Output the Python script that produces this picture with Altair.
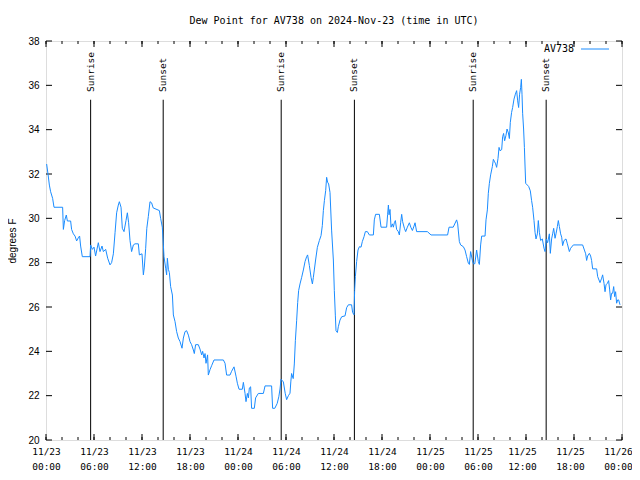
import altair as alt
import pandas as pd

# ---- data ----
hours = [0.08, 0.25, 0.42, 0.58, 0.83, 1.0, 2.08, 2.17, 2.33, 2.54, 2.67, 3.08, 3.2, 3.42, 3.63, 3.83,
         4.08, 4.2, 4.33, 4.54, 5.5, 5.58, 5.79, 6.0, 6.2, 6.54, 6.75, 7.0, 7.17, 7.46, 7.71, 8.0,
         8.2, 8.42, 8.63, 8.83, 9.04, 9.17, 9.38, 9.54, 9.75, 10.0, 10.17, 10.33, 10.5, 10.7, 10.92,
         11.13, 11.54, 11.67, 12.0, 12.17, 12.29, 12.46, 12.6, 12.79, 13.0, 13.2, 13.4, 14.17, 14.33,
         14.54, 14.67, 14.75, 14.96, 15.08, 15.17, 15.3, 15.42, 15.58, 15.8, 15.92, 16.13, 16.33,
         16.54, 16.75, 17.0, 17.17, 17.38, 17.58, 17.8, 18.0, 18.2, 18.42, 18.54, 18.7, 19.04, 19.25,
         19.46, 19.58, 19.75, 19.88, 20.0, 20.2, 20.29, 20.5, 20.7, 21.0, 22.17, 22.38, 22.58, 23.0,
         23.2, 23.5, 23.75, 23.92, 24.13, 24.54, 24.67, 24.88, 25.0, 25.17, 25.3, 25.42, 25.58, 25.7,
         26.04, 26.2, 26.54, 27.17, 27.38, 28.2, 28.33, 28.6, 28.9, 29.1, 29.25, 29.38, 29.67, 29.9,
         30.08, 30.3, 30.5, 30.6, 30.7, 30.9, 31.04, 31.17, 31.33, 31.46, 31.58, 31.75, 31.96, 32.17,
         32.38, 32.58, 32.7, 32.92, 33.13, 33.3, 33.42, 33.54, 33.7, 33.92, 34.17, 34.38, 34.54,
         34.67, 34.8, 34.96, 35.08, 35.2, 35.33, 35.5, 35.7, 35.92, 36.04, 36.17, 36.25, 36.42,
         36.54, 36.75, 36.96, 37.38, 37.58, 37.8, 38.2, 38.33, 38.5, 38.58, 38.67, 38.83, 39.0,
         39.17, 39.38, 39.54, 39.75, 39.92, 40.17, 40.42, 40.92, 41.04, 41.2, 41.67, 41.88, 42.58,
         42.7, 42.8, 42.88, 43.0, 43.13, 43.3, 43.42, 43.54, 43.67, 43.83, 44.04, 44.17, 44.33,
         44.46, 44.58, 44.8, 44.96, 45.17, 45.42, 45.6, 45.8, 46.0, 46.13, 46.33, 47.67, 48.13,
         50.2, 50.38, 50.9, 51.33, 51.46, 51.67, 51.83, 52.17, 52.38, 52.58, 52.8, 52.92, 53.08,
         53.3, 53.42, 53.6, 53.83, 54.04, 54.17, 54.33, 54.46, 54.88, 55.0, 55.17, 55.29, 55.42,
         55.58, 55.79, 55.92, 56.08, 56.2, 56.33, 56.5, 56.63, 56.75, 56.96, 57.08, 57.2, 57.33,
         57.5, 57.63, 57.8, 57.92, 58.04, 58.2, 58.33, 58.5, 58.67, 58.83, 58.96, 59.08, 59.2,
         59.33, 59.42, 59.5, 59.58, 59.7, 59.8, 59.88, 59.96, 60.17, 60.33, 60.54, 60.7, 60.83,
         61.0, 61.13, 61.25, 61.42, 61.54, 61.67, 61.83, 62.04, 62.25, 62.38, 62.54, 62.7, 62.92,
         63.04, 63.2, 63.33, 63.46, 63.63, 63.75, 63.92, 64.04, 64.17, 64.33, 64.46, 64.58, 64.75,
         65.0, 65.17, 65.42, 65.58, 65.92, 67.08, 67.3, 67.46, 67.58, 67.7, 67.92, 68.08, 68.2,
         68.33, 68.83, 68.96, 69.25, 69.46, 69.58, 69.75, 69.88, 70.0, 70.17, 70.33, 70.46, 70.58,
         70.7, 70.83, 70.96, 71.08, 71.2, 71.33, 71.46, 71.58, 71.75]

dewpoint = [32.45, 32.0, 31.5, 31.2, 30.9, 30.5, 30.5, 29.5, 29.9, 30.15, 29.88, 29.88, 29.5, 29.3, 29.2, 28.98,
            29.15, 29.2, 28.75, 28.27, 28.27, 28.8, 28.6, 28.7, 28.3, 28.9, 28.5, 28.75, 28.5, 28.6, 28.2, 27.9,
            28.0, 28.4, 29.35, 30.25, 30.6, 30.75, 30.5, 29.55, 29.4, 29.9, 30.25, 29.8, 29.0, 28.5, 28.8,
            28.85, 28.85, 28.35, 28.4, 27.45, 27.8, 28.65, 29.55, 30.08, 30.75, 30.7, 30.47, 30.35, 30.0,
            29.6, 28.8, 28.27, 27.75, 27.45, 28.2, 27.7, 27.55, 26.92, 26.54, 25.64, 25.34, 24.89,
            24.6, 24.44, 24.14, 24.6, 24.89, 24.93, 24.73, 24.44, 24.3, 24.06, 23.9, 24.3, 24.3, 24.1,
            23.84, 24.0, 23.7, 23.9, 23.46, 23.84, 22.93, 23.17, 23.35, 23.61, 23.61, 23.46, 22.93, 22.93,
            23.1, 23.3, 22.88, 22.56, 22.29, 22.29, 22.6, 22.1, 21.73, 22.1, 21.9, 22.35, 22.4, 21.43,
            21.43, 21.9, 22.1, 22.1, 22.44, 22.44, 21.43, 21.43, 21.65, 21.95, 22.3, 22.74, 22.62, 22.11,
            21.82, 22.0, 22.11, 22.62, 23.0, 22.77, 23.43, 24.48, 25.38, 26.2, 26.74, 27.04, 27.34, 27.67,
            28.05, 28.27, 28.35, 27.87, 27.34, 27.04, 27.34, 27.67, 28.12, 28.69, 29.0, 29.22, 29.67,
            30.35, 30.8, 31.25, 31.85, 31.63, 31.55, 31.17, 29.47, 28.12, 26.74, 25.6, 24.93, 24.85,
            25.11, 25.41, 25.56, 25.6, 25.97, 26.1, 26.1, 25.75, 25.65, 26.74, 27.37, 28.05, 28.57,
            28.72, 28.7, 28.95, 29.17, 29.4, 29.4, 29.25, 29.25, 29.93, 30.18, 30.18, 29.6, 29.6,
            30.16, 30.6, 30.16, 30.4, 29.6, 29.75, 29.6, 29.8, 29.9, 29.5, 29.4, 29.25, 29.8,
            30.18, 29.85, 29.55, 29.4, 29.6, 29.8, 29.6, 29.45, 29.65, 29.8, 29.4, 29.4, 29.25,
            29.25, 29.6, 29.6, 29.93, 29.75, 28.95, 28.8, 28.72, 28.57, 28.27, 27.97, 27.92, 28.5,
            28.1, 27.95, 27.95, 28.57, 28.05, 27.92, 28.8, 29.2, 29.2, 29.93, 30.38, 31.13, 31.58,
            31.96, 32.33, 32.66, 32.55, 32.46, 32.3, 32.7, 33.2, 33.05, 33.1, 33.68, 33.83, 33.5,
            33.75, 34.03, 33.85, 33.6, 34.33, 34.78, 35.0, 35.38, 35.6, 35.76, 35.3, 35.0, 35.6,
            35.9, 36.27, 35.6, 34.74, 34.03, 33.2, 32.36, 31.58, 31.5, 31.44, 31.24, 30.8, 30.5,
            29.9, 29.37, 29.07, 29.3, 29.9, 29.37, 29.0, 29.07, 28.65, 28.5, 29.07, 28.9, 29.3,
            28.42, 29.07, 29.3, 29.55, 29.1, 29.3, 29.63, 29.9, 29.63, 29.3, 29.15, 28.77, 29.0,
            29.07, 28.85, 28.5, 28.65, 28.8, 28.8, 28.57, 28.4, 28.1, 28.3, 28.42, 28.3, 28.1,
            27.72, 27.72, 27.37, 27.1, 27.3, 27.45, 27.07, 26.69, 27.0, 27.07, 27.19, 26.77, 26.32,
            26.62, 26.62, 26.92, 26.47, 26.69, 26.17, 26.32, 26.32, 26.1]

sun_hours = [5.58, 14.65, 29.4, 38.55, 53.4, 62.52]
sun_labels = ["Sunrise", "Sunset", "Sunrise", "Sunset", "Sunrise", "Sunset"]
major_tick_hours = list(range(0, 73, 6))
minor_tick_hours = list(range(0, 73, 2))
y_ticks = [20, 22, 24, 26, 28, 30, 32, 34, 36, 38]
series_name = "AV738"
title_text = "Dew Point for AV738 on 2024-Nov-23 (time in UTC)"

base = pd.Timestamp("2024-11-23T00:00:00")


def stamps(h):
    return (base + pd.to_timedelta(h, unit="h")).strftime("%Y-%m-%dT%H:%M:%SZ").tolist()


df = pd.DataFrame({"time": stamps(hours), "dew": dewpoint})
sun_df = pd.DataFrame({"time": stamps(sun_hours), "label": sun_labels})
major_df = pd.DataFrame({"time": stamps(major_tick_hours)})
minor_df = pd.DataFrame({"time": stamps(minor_tick_hours)})
yt_df = pd.DataFrame({"dew": y_ticks})

MONO = "DejaVu Sans Mono"
SANS = "Liberation Sans"
W, H = 576, 399
BLUE = "#1a8cff"

xscale = alt.Scale(type="utc",
                   domain=[alt.DateTime(year=2024, month=11, date=23, hours=0, utc=True),
                           alt.DateTime(year=2024, month=11, date=26, hours=0, utc=True)])
yscale = alt.Scale(domain=[20, 38], nice=False, zero=False)

xaxis = alt.Axis(
    values=[alt.DateTime(year=2024, month=11, date=23 + h // 24, hours=h % 24, utc=True) for h in major_tick_hours],
    labelExpr="[utcFormat(datum.value, '%m/%d'), utcFormat(datum.value, '%H:%M')]",
    labelFont=MONO, labelFontSize=9.5, labelColor="black", labelLineHeight=15,
    labelPadding=6, ticks=False, domain=False, grid=False, title=None, labelFlush=False,
    labelOverlap=False,
    labelOffset={"condition": {"test": "datum.value >= utc(2024, 10, 25, 12)", "value": -4}, "value": 0},
)
yaxis = alt.Axis(values=y_ticks, labelFont=SANS, labelFontSize=10, labelColor="black",
                 labelPadding=7, ticks=False, domain=False, grid=False,
                 title="degrees F", titleFont=SANS, titleFontSize=10, titleFontWeight="normal",
                 titleColor="black", titlePadding=10)

line = alt.Chart(df).mark_line(color=BLUE, strokeWidth=1, clip=True).encode(
    x=alt.X("time:T", scale=xscale, axis=xaxis),
    y=alt.Y("dew:Q", scale=yscale, axis=yaxis),
)

sun_rules = alt.Chart(sun_df).mark_rule(color="black", strokeWidth=1).encode(
    x="time:T", y=alt.datum(20), y2=alt.datum(35.35)
)
sun_text = alt.Chart(sun_df).mark_text(angle=270, align="left", baseline="middle", font=MONO,
                                       fontSize=9.5, color="black").encode(
    x="time:T", y=alt.datum(35.7), text="label:N"
)

major_bottom = alt.Chart(major_df).mark_rule(color="black").encode(
    x="time:T", y=alt.value(H), y2=alt.value(H - 6))
major_top = alt.Chart(major_df).mark_rule(color="black").encode(
    x="time:T", y=alt.value(0), y2=alt.value(6))
minor_bottom = alt.Chart(minor_df).mark_rule(color="black").encode(
    x="time:T", y=alt.value(H), y2=alt.value(H - 3))
minor_top = alt.Chart(minor_df).mark_rule(color="black").encode(
    x="time:T", y=alt.value(0), y2=alt.value(3))
y_left = alt.Chart(yt_df).mark_rule(color="black").encode(
    y="dew:Q", x=alt.value(0), x2=alt.value(6))
y_right = alt.Chart(yt_df).mark_rule(color="black").encode(
    y="dew:Q", x=alt.value(W), x2=alt.value(W - 6))

legend_text = alt.Chart(pd.DataFrame({"name": [series_name]})).mark_text(
    align="right", baseline="middle", font=MONO, fontSize=10, color="black").encode(
    text="name:N", x=alt.value(528), y=alt.value(8))
legend_line = alt.Chart(pd.DataFrame({"name": [series_name]})).mark_rule(color=BLUE, strokeWidth=1).encode(
    x=alt.value(535), x2=alt.value(563), y=alt.value(8))

chart = alt.layer(
    minor_bottom, minor_top, major_bottom, major_top, y_left, y_right,
    sun_rules, sun_text, line, legend_text, legend_line
).properties(
    width=W, height=H,
    title=alt.TitleParams(title_text, font=MONO, fontSize=10, fontWeight="normal", color="black",
                          anchor="middle", offset=2, baseline="alphabetic", frame="group"),
    autosize=alt.AutoSizeParams(type="none"),
    padding={"left": 38, "top": 33, "right": 10, "bottom": 30},
).configure_view(stroke="black", strokeWidth=1).configure(background="white")

chart.save("out.html", embed_options={"renderer": "svg", "actions": False})
